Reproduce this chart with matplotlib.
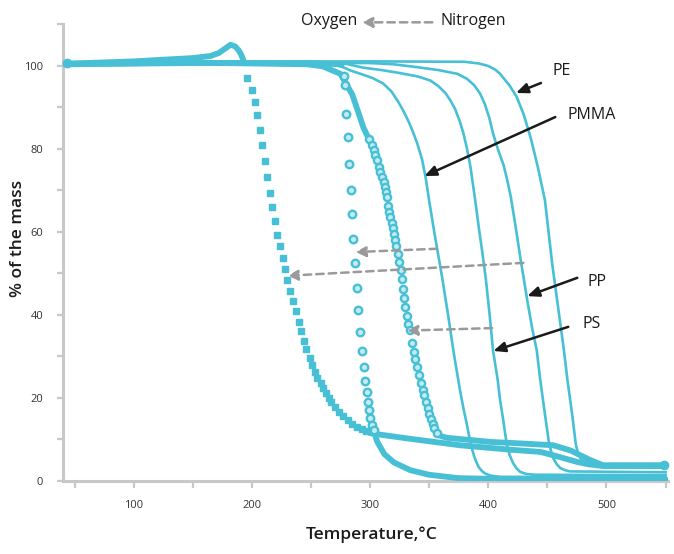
import matplotlib
matplotlib.use('Agg')
import matplotlib.pyplot as plt
from matplotlib.ticker import MultipleLocator

plt.rcParams['font.family'] = ['Open Sans', 'DejaVu Sans']

CYAN = '#47C0D5'
RING_FACE = '#c4ebf2'
AX_GRAY = '#c8c8c8'
ARROW_GRAY = '#9a9a9a'

# ---------------- Nitrogen curves (solid lines) ----------------
pmma_n2_t = [42, 150, 250, 262, 272, 278, 283.5, 292, 302, 311, 318, 324, 328, 333, 337, 340, 344, 347, 350,
             354, 357, 361, 366, 371, 376, 379, 382, 384, 386, 388, 390, 392, 395, 398, 402, 410, 550]
pmma_n2_m = [100.6, 100.8, 100.6, 100.4, 100.0, 99.5, 98.8, 98.0, 97.0, 95.7, 93.8, 91.2, 89.2, 86.3, 83.5, 81.2,
             77.4, 73.1, 67.5, 60.5, 55.5, 49.0, 40.0, 30.5, 22.0, 17.5, 13.5, 10.5, 8.0, 6.0, 4.5, 3.3, 2.3,
             1.7, 1.3, 1.0, 0.9]

ps_n2_t = [42, 280, 294, 310, 325, 340, 351, 358, 364, 368, 372, 376, 379, 382, 385, 387, 389, 392, 395, 398,
           401, 404, 408, 410, 412.7, 414.5, 416, 418, 421, 424, 427, 432, 440, 550]
ps_n2_m = [100.6, 100.4, 99.5, 98.9, 98.2, 97.4, 96.4, 95.0, 93.3, 91.6, 89.5, 86.5, 83.7, 80.0, 75.5, 71.5,
           67.5, 61.0, 55.0, 48.5, 40.5, 31.5, 24.3, 19.5, 14.6, 11.0, 8.5, 6.3, 4.3, 3.0, 2.2, 1.7, 1.5, 1.4]

pp_n2_t = [42, 300, 320, 340, 358, 374, 382, 388, 393, 397, 401, 404, 408, 413, 416, 419, 423, 427, 430, 433,
           437, 441, 444, 447.5, 449.5, 451, 453, 455, 458, 461, 465, 469, 550]
pp_n2_m = [100.7, 100.6, 100.3, 99.6, 98.9, 98.0, 96.8, 95.3, 93.3, 90.8, 87.3, 83.7, 80.0, 76.0, 72.5, 68.5,
           61.5, 54.0, 48.8, 43.5, 37.0, 31.5, 24.3, 17.0, 13.0, 9.9, 7.3, 5.5, 4.0, 3.1, 2.6, 2.3, 2.1]

pe_n2_t = [42, 300, 380, 392, 400, 406, 410, 414, 418, 424, 430, 436, 442, 448, 451, 454, 459, 464, 467, 471,
           474, 476, 479, 484, 490, 500, 550]
pe_n2_m = [100.8, 101.0, 100.9, 100.5, 99.9, 99.0, 98.0, 96.6, 95.2, 92.5, 88.2, 82.5, 75.5, 67.5, 60.0, 52.5,
           42.0, 31.5, 24.3, 16.0, 9.0, 6.5, 5.0, 4.1, 3.6, 3.3, 3.2]

# ---------------- Oxygen curves (markers + overlapped bands) ----------------
# PP in oxygen: square markers
pp_o2_band1_t = [42, 60, 100, 150, 165, 172, 177, 182, 186, 189, 191, 193]
pp_o2_band1_m = [100.4, 100.6, 101.0, 101.8, 102.3, 103.0, 104.0, 105.0, 104.6, 103.6, 102.6, 101.2]
pp_o2_sq_t = [196.1, 200.3, 202.3, 204.6, 206.8, 209.0, 211.0, 213.0, 215.0, 217.2, 219.2, 221.5, 223.7, 226.0, 227.9,
              229.9, 232.7, 235.0, 237.2, 239.5, 241.8, 244.0, 246.2, 248.8, 251.0, 253.3, 255.5, 258.1, 260.3, 262.6,
              265.1, 267.4, 270.2, 273.6, 277.0, 281.0, 285.0, 289.0, 293.0, 297.0]
pp_o2_sq_m = [97.0, 94.2, 91.3, 88.0, 84.5, 80.8, 77.0, 73.2, 69.4, 65.9, 62.5, 59.3, 56.5, 53.7, 51.1,
              48.3, 45.7, 43.3, 40.8, 38.3, 36.0, 33.7, 31.7, 29.7, 27.9, 26.3, 24.9, 23.5, 22.3, 21.1,
              20.0, 19.0, 17.9, 16.7, 15.6, 14.6, 13.8, 13.1, 12.5, 12.0]
pp_o2_band2_t = [297, 300, 330, 376, 420, 444, 455, 465, 475, 485, 497, 550]
pp_o2_band2_m = [12.0, 11.5, 10.3, 8.6, 7.5, 7.0, 6.2, 5.4, 4.6, 4.0, 3.6, 3.6]

# PMMA in oxygen: sparse ring markers
pmma_o2_band1_t = [42, 150, 250, 276]
pmma_o2_band1_m = [100.3, 100.6, 100.6, 100.3]
pmma_o2_ring_t = [277.6, 279.0, 279.8, 281.5, 282.3, 284.0, 285.0, 286.0, 287.7, 289.3, 290.2, 291.9, 293.3, 294.7,
                  296.1, 297.5, 298.4, 299.5, 300.3, 301.7, 303.0]
pmma_o2_ring_m = [97.6, 95.2, 88.4, 82.9, 76.2, 70.0, 64.2, 58.2, 52.4, 46.4, 41.1, 35.8, 31.3, 27.5,
                  24.0, 21.3, 19.1, 17.1, 15.1, 13.5, 12.3]
pmma_o2_band2_t = [303, 306, 312, 320, 334, 350, 374, 420, 550]
pmma_o2_band2_m = [12.3, 9.5, 6.5, 4.5, 2.6, 1.5, 0.7, 0.4, 0.4]

# PS in oxygen: dense ring markers
ps_o2_band1_t = [42, 150, 247, 260, 275, 285, 294.5, 298.9]
ps_o2_band1_m = [100.4, 100.7, 100.3, 99.8, 98.0, 93.0, 85.0, 82.4]
ps_o2_ring_t = [298.9, 301.8, 303.1, 304.6, 306.0, 307.4, 308.8, 310.2, 311.6, 312.4, 313.6, 314.5,
                315.0, 316.4, 317.2, 318.3, 319.2, 320.0, 321.2, 322.1, 323.4, 324.9, 326.0, 327.1,
                328.0, 328.8, 329.9, 331.0, 332.2, 333.6, 335.6, 336.9, 338.4, 339.8, 341.5, 343.2,
                344.6, 346.0, 347.4, 348.8, 350.2, 351.6, 353.0, 354.5, 356.7]
ps_o2_ring_m = [82.4, 80.8, 79.6, 78.4, 77.2, 75.6, 74.4, 73.1, 71.9, 70.7, 69.5, 68.3,
                66.3, 64.7, 63.5, 62.1, 61.0, 59.5, 58.1, 56.5, 54.7, 52.7, 50.7, 48.5,
                46.3, 44.1, 41.9, 39.7, 37.9, 36.3, 33.1, 31.1, 29.3, 27.5, 25.5, 23.6,
                22.0, 20.7, 19.1, 17.5, 16.1, 14.8, 13.7, 12.7, 11.5]
ps_o2_band2_t = [356.7, 360, 365, 402, 430, 455, 470, 485, 497, 550]
ps_o2_band2_m = [11.5, 10.8, 10.4, 9.4, 9.0, 8.6, 7.3, 5.2, 3.8, 3.8]

x_ticks = [100, 200, 300, 400, 500]
y_ticks = [0, 20, 40, 60, 80, 100]

# ---------------- Figure ----------------
fig = plt.figure(figsize=(6.74, 5.54), dpi=100)
ax = fig.add_axes([0.093, 0.1318, 0.898, 0.8249])
ax.set_xlim(40, 552)
ax.set_ylim(0, 110)

band_lw = 4.2
for t, m in [(pp_o2_band1_t, pp_o2_band1_m), (pp_o2_band2_t, pp_o2_band2_m),
             (pmma_o2_band1_t, pmma_o2_band1_m), (pmma_o2_band2_t, pmma_o2_band2_m),
             (ps_o2_band1_t, ps_o2_band1_m), (ps_o2_band2_t, ps_o2_band2_m)]:
    ax.plot(t, m, color=CYAN, lw=band_lw, solid_capstyle='round', solid_joinstyle='round', zorder=3)

for t, m in [(pmma_n2_t, pmma_n2_m), (ps_n2_t, ps_n2_m), (pp_n2_t, pp_n2_m), (pe_n2_t, pe_n2_m)]:
    ax.plot(t, m, color=CYAN, lw=1.9, solid_joinstyle='round', zorder=3)

ax.plot(pp_o2_sq_t, pp_o2_sq_m, ls='none', marker='s', ms=5.0, color=CYAN, mec=CYAN, zorder=4)
ax.plot(pmma_o2_ring_t, pmma_o2_ring_m, ls='none', marker='o', ms=5.4, mfc=RING_FACE, mec=CYAN, mew=1.7, zorder=4)
ax.plot(ps_o2_ring_t, ps_o2_ring_m, ls='none', marker='o', ms=5.2, mfc=RING_FACE, mec=CYAN, mew=1.7, zorder=4)

ax.plot([549], [3.8], marker='o', ms=6, color=CYAN, zorder=4, clip_on=False)
ax.plot([44], [100.5], marker='o', ms=6, color=CYAN, zorder=4, clip_on=False)

for s in ['top', 'right']:
    ax.spines[s].set_visible(False)
for s in ['left', 'bottom']:
    ax.spines[s].set_color(AX_GRAY)
    ax.spines[s].set_linewidth(2.2)
ax.set_xticks(x_ticks)
ax.set_yticks(y_ticks)
ax.xaxis.set_minor_locator(MultipleLocator(50))
ax.yaxis.set_minor_locator(MultipleLocator(10))
ax.tick_params(axis='x', which='both', length=5, width=1.6, color=AX_GRAY, labelsize=8,
               labelcolor='#333333', pad=9)
ax.tick_params(axis='y', which='both', length=4, width=1.6, color=AX_GRAY, labelsize=8,
               labelcolor='#333333', pad=10)

fig.text(0.551, 0.02, 'Temperature,°C', ha='center', va='bottom', fontsize=12.5,
         fontweight='semibold', color='#1a1a1a')
fig.text(0.026, 0.569, '% of the mass', ha='center', va='center', rotation=90, fontsize=12.5,
         fontweight='semibold', color='#1a1a1a')

ax.text(289, 110.8, 'Oxygen', ha='right', va='center', fontsize=11.5, color='#1a1a1a', clip_on=False)
ax.text(360, 110.8, 'Nitrogen', ha='left', va='center', fontsize=11.5, color='#1a1a1a', clip_on=False)

gray_arrow = dict(arrowstyle='-|>,head_length=0.6,head_width=0.3', color=ARROW_GRAY, lw=1.8,
                  ls=(0, (3, 2)), shrinkA=0, shrinkB=0)
ax.annotate('', xy=(293.3, 110.4), xytext=(352.7, 110.4), arrowprops=gray_arrow, annotation_clip=False)
ax.annotate('', xy=(287.7, 55.1), xytext=(356.7, 55.9), arrowprops=gray_arrow, zorder=5)
ax.annotate('', xy=(230.2, 49.4), xytext=(429.7, 52.5), arrowprops=gray_arrow, zorder=5)
ax.annotate('', xy=(331.4, 36.2), xytext=(403.2, 36.8), arrowprops=gray_arrow, zorder=5)

black_arrow = dict(arrowstyle='-|>,head_length=0.7,head_width=0.3', color='#1a1a1a', lw=1.8,
                   shrinkA=0, shrinkB=0)
ax.annotate('', xy=(423.5, 93.4), xytext=(444.6, 95.8), arrowprops=black_arrow, zorder=6)
ax.annotate('', xy=(346.0, 73.4), xytext=(456.7, 87.6), arrowprops=black_arrow, zorder=6)
ax.annotate('', xy=(433.0, 44.5), xytext=(475.3, 48.9), arrowprops=black_arrow, zorder=6)
ax.annotate('', xy=(404.3, 31.3), xytext=(467.7, 37.1), arrowprops=black_arrow, zorder=6)

ax.text(454.2, 98.7, 'PE', ha='left', va='center', fontsize=11.5, color='#1a1a1a')
ax.text(466.9, 88.1, 'PMMA', ha='left', va='center', fontsize=11.5, color='#1a1a1a')
ax.text(483.8, 47.9, 'PP', ha='left', va='center', fontsize=11.5, color='#1a1a1a')
ax.text(479.5, 37.8, 'PS', ha='left', va='center', fontsize=11.5, color='#1a1a1a')

fig.savefig('out.png', dpi=100)
